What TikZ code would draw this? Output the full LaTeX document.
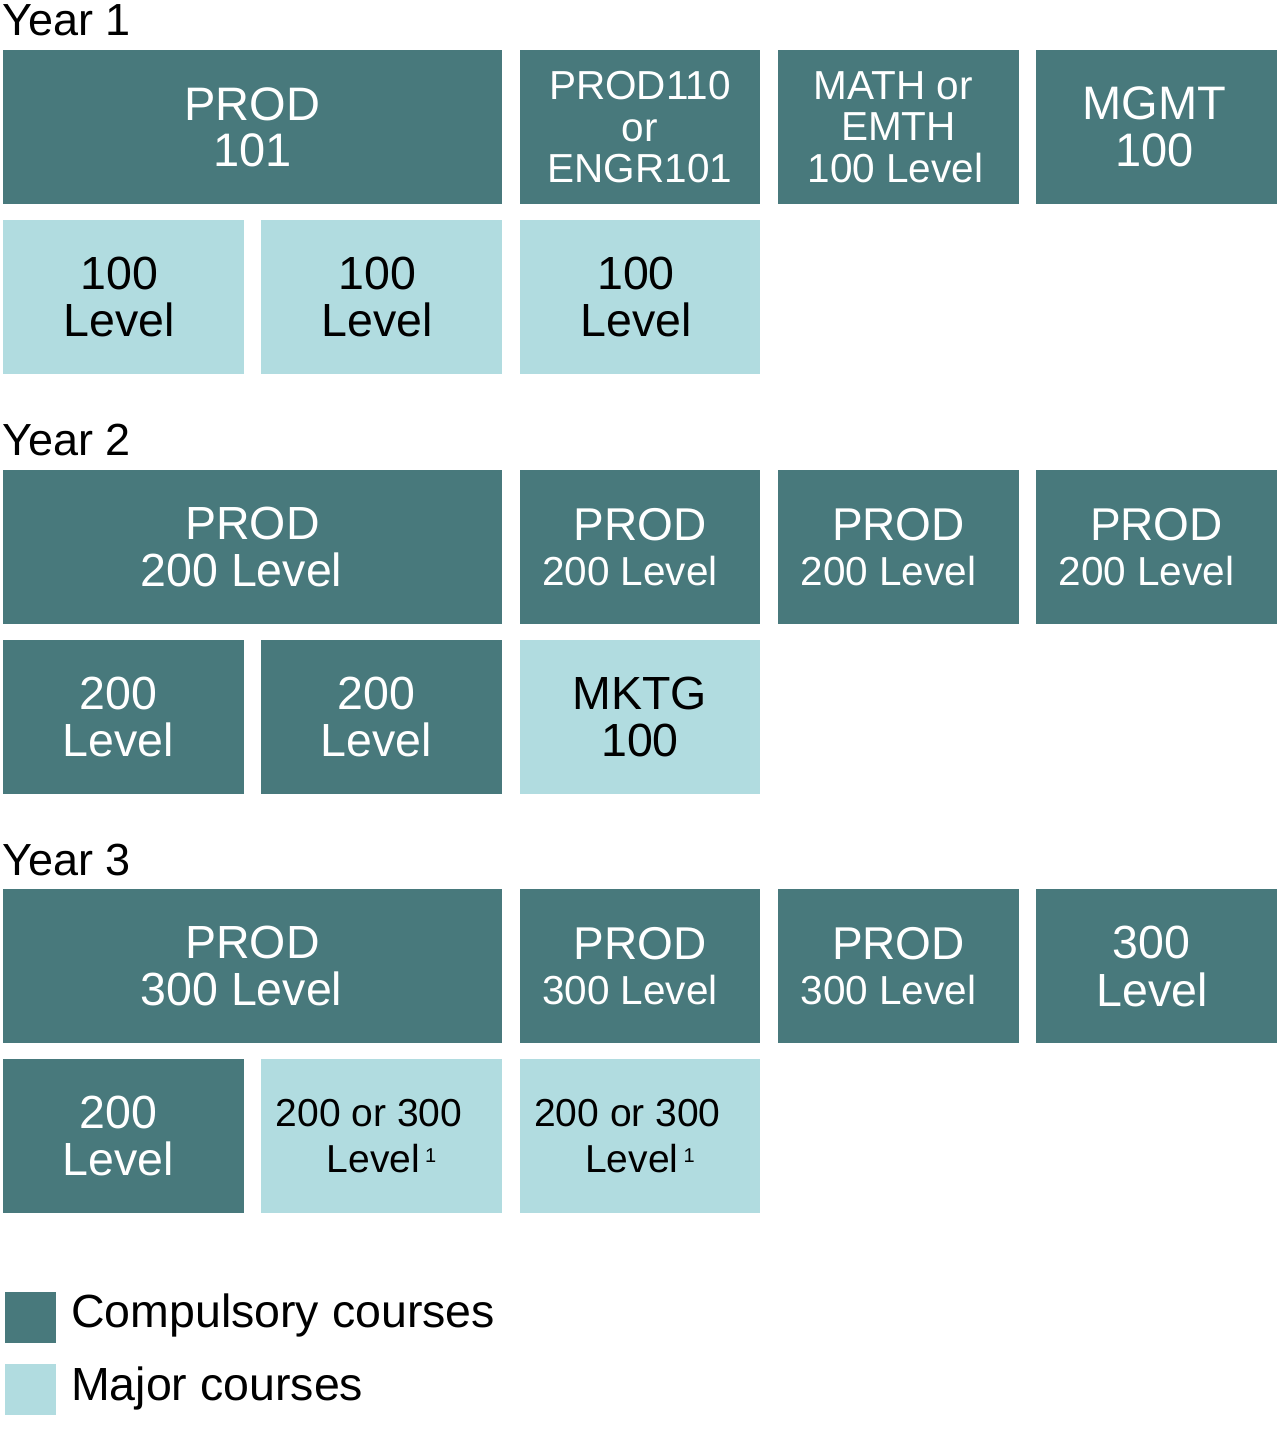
\documentclass[tikz,border=0pt]{standalone}
\usepackage{fontspec}
\setmainfont{Liberation Sans}
\definecolor{darkteal}{HTML}{48797C}
\definecolor{lightteal}{HTML}{B1DCE0}
\begin{document}
\begin{tikzpicture}[x=1pt,y=-1pt,
  box/.style={rectangle, inner sep=0pt, anchor=north west, minimum height=154pt, align=center},
  comp/.style={box, fill=darkteal, text=white},
  major/.style={box, fill=lightteal, text=black},
  narrow/.style={minimum width=240.5pt},
  wide/.style={minimum width=498.5pt},
  yearlabel/.style={anchor=base west, inner sep=0pt, font=\fontsize{45}{45}\selectfont},
  legendsq/.style={rectangle, inner sep=0pt, anchor=north west, minimum size=51pt},
  legendtxt/.style={anchor=base west, inner sep=0pt, font=\fontsize{46.5}{46.5}\selectfont}
]
\useasboundingbox (0,0) rectangle (1280,1436);

% Year 1
\node[yearlabel] (y1) at (2,35) {Year 1};
\node[comp,wide,font=\fontsize{47}{46}\selectfont] (p101) at (3,50) {PROD\\101};
\node[comp,narrow,font=\fontsize{40.5}{41.5}\selectfont] (p110) at (519.5,50) {PROD110\\or\\ENGR101};
\node[comp,narrow,font=\fontsize{40.5}{41.5}\selectfont] (math) at (778,50) {MATH or\kern10pt\\EMTH\\100 Level\kern6pt};
\node[comp,narrow,font=\fontsize{47}{47}\selectfont] (mgmt) at (1036,50) {MGMT\kern4pt\\100\kern4pt};
\node[major,narrow,font=\fontsize{46.5}{47}\selectfont] (a1) at (3,220) {100\kern8pt\\Level\kern8pt};
\node[major,narrow,font=\fontsize{46.5}{47}\selectfont] (a2) at (261,220) {100\kern8pt\\Level\kern8pt};
\node[major,narrow,font=\fontsize{46.5}{47}\selectfont] (a3) at (519.5,220) {100\kern8pt\\Level\kern8pt};

% Year 2
\node[yearlabel] (y2) at (2,455) {Year 2};
\node[comp,wide,font=\fontsize{46.5}{47}\selectfont] (p200) at (3,470) {PROD\\200 Level\kern22pt};
\node[comp,narrow,font=\fontsize{46}{45}\selectfont] (p200b) at (519.5,470) {PROD\\{\fontsize{40.5}{45}\selectfont 200 Level\kern20pt}};
\node[comp,narrow,font=\fontsize{46}{45}\selectfont] (p200c) at (778,470) {PROD\\{\fontsize{40.5}{45}\selectfont 200 Level\kern20pt}};
\node[comp,narrow,font=\fontsize{46}{45}\selectfont] (p200d) at (1036,470) {PROD\\{\fontsize{40.5}{45}\selectfont 200 Level\kern20pt}};
\node[comp,narrow,font=\fontsize{46.5}{47}\selectfont] (b1) at (3,640) {200\kern10pt\\Level\kern10pt};
\node[comp,narrow,font=\fontsize{46.5}{47}\selectfont] (b2) at (261,640) {200\kern10pt\\Level\kern10pt};
\node[major,narrow,font=\fontsize{46.5}{47}\selectfont] (mktg) at (519.5,640) {MKTG\\100};

% Year 3
\node[yearlabel] (y3) at (2,875) {Year 3};
\node[comp,wide,font=\fontsize{46.5}{47}\selectfont] (p300) at (3,889) {PROD\\300 Level\kern22pt};
\node[comp,narrow,font=\fontsize{46}{45}\selectfont] (p300b) at (519.5,889) {PROD\\{\fontsize{40.5}{45}\selectfont 300 Level\kern20pt}};
\node[comp,narrow,font=\fontsize{46}{45}\selectfont] (p300c) at (778,889) {PROD\\{\fontsize{40.5}{45}\selectfont 300 Level\kern20pt}};
\node[comp,narrow,font=\fontsize{46.5}{48}\selectfont] (l300) at (1036,889) {300\kern10pt\\Level\kern8pt};
\node[comp,narrow,font=\fontsize{46.5}{47}\selectfont] (c1) at (3,1059) {200\kern10pt\\Level\kern10pt};
\node[major,narrow,font=\fontsize{39}{46}\selectfont] (c2) at (261,1059) {200 or 300\kern25pt\\Level\kern5pt\raisebox{10pt}{\fontsize{20}{20}\selectfont 1}};
\node[major,narrow,font=\fontsize{39}{46}\selectfont] (c3) at (519.5,1059) {200 or 300\kern25pt\\Level\kern5pt\raisebox{10pt}{\fontsize{20}{20}\selectfont 1}};

% Legend
\node[legendsq,fill=darkteal] (lc) at (4.5,1291.5) {};
\node[legendtxt] (lct) at (71,1327) {Compulsory courses};
\node[legendsq,fill=lightteal] (lm) at (4.5,1363.5) {};
\node[legendtxt] (lmt) at (71,1400) {Major courses};
\end{tikzpicture}
\end{document}
